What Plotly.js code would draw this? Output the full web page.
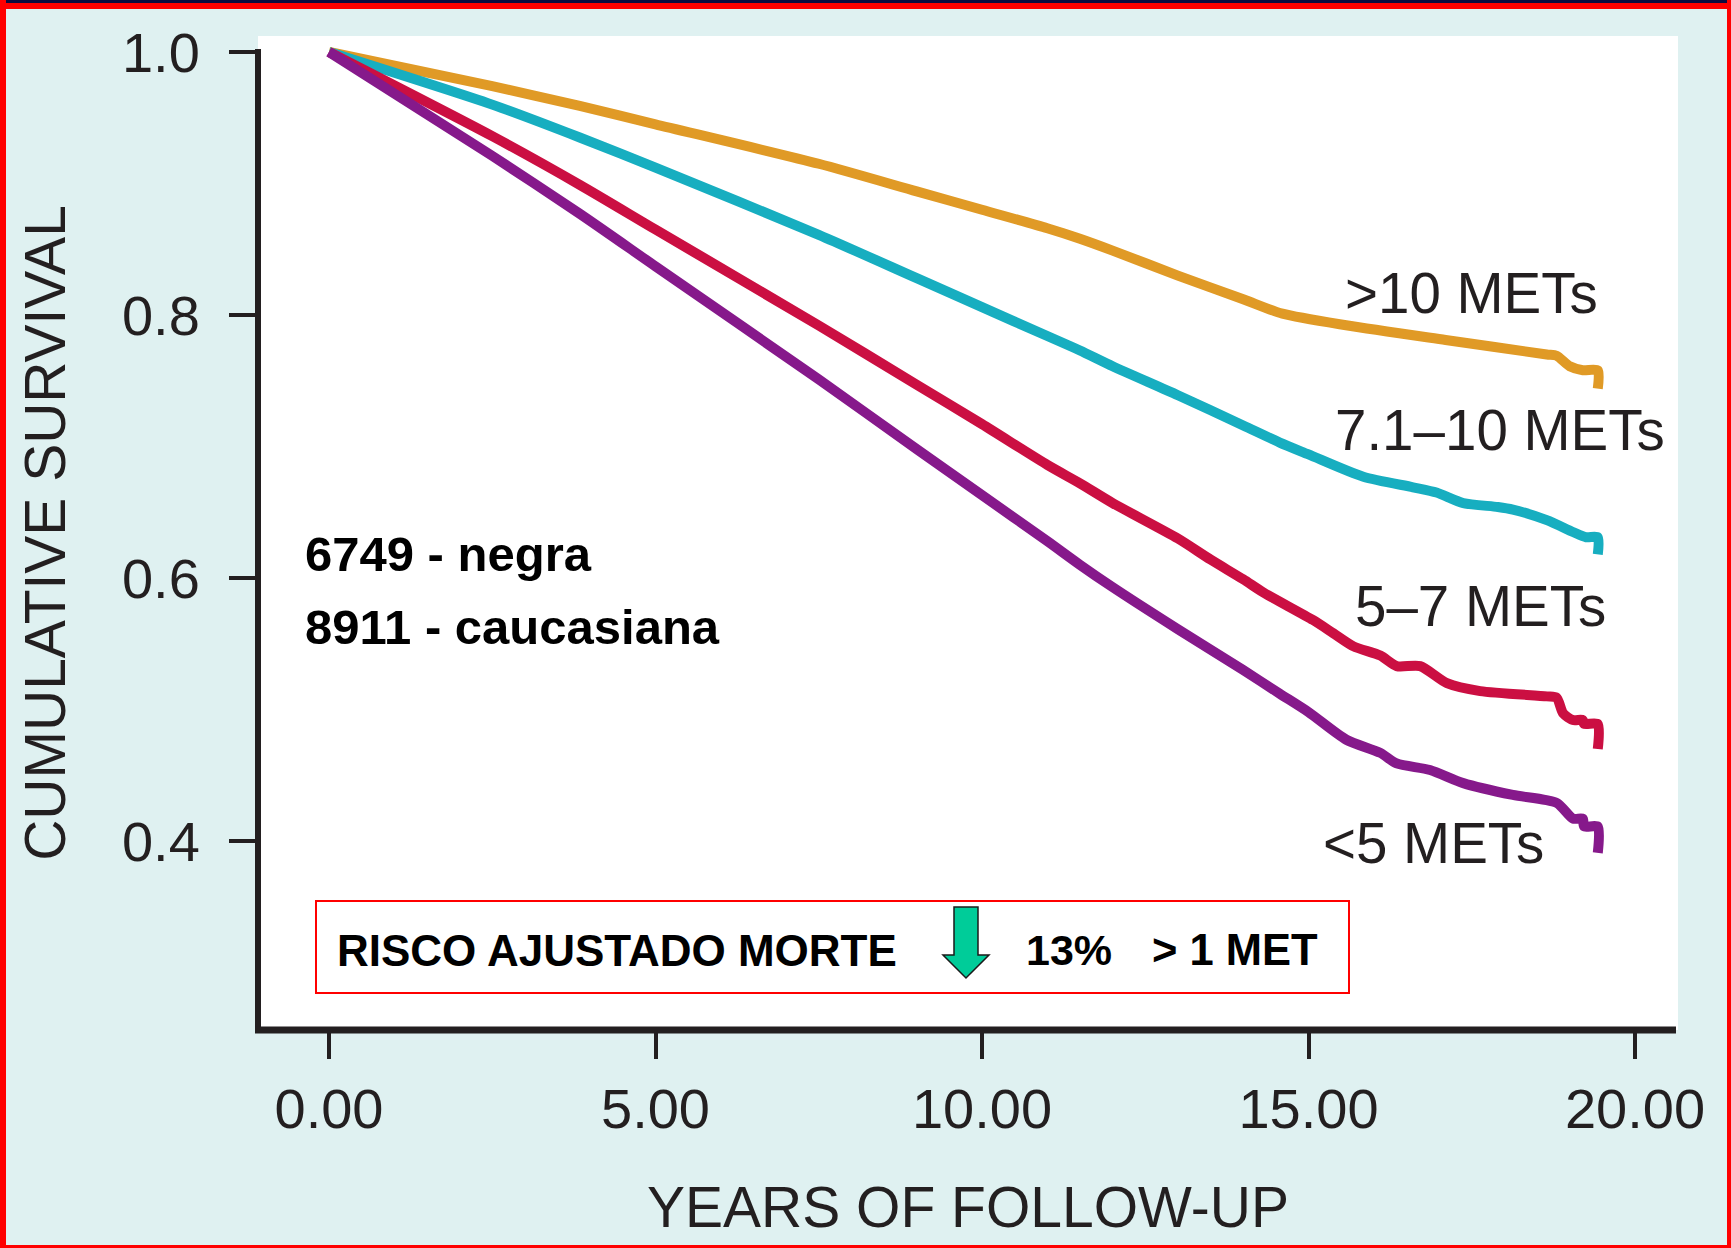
<!DOCTYPE html>
<html>
<head>
<meta charset="utf-8">
<script src="https://cdn.plot.ly/plotly-3.0.1.min.js"></script>
<style>html,body{margin:0;padding:0;background:#dff1f1;}#chart{width:1731px;height:1248px;}</style>
</head>
<body>
<div id="chart"></div>
<script>
// ---------------- DATA ----------------
const seriesNames = ['>10 METs', '7.1–10 METs', '5–7 METs', '<5 METs'];
const seriesColors = ['#e09a26', '#17aec0', '#cb0f42', '#86198b'];

const years_gt10 = [0, 2.5, 3.84, 5, 7.5, 9, 10, 11, 11.5, 12, 13, 14, 14.6, 15.6, 17.1, 18.65, 18.8, 19.0, 19.2, 19.43, 19.43];
const surv_gt10  = [1.0, 0.974, 0.959, 0.945, 0.915, 0.894, 0.880, 0.866, 0.858, 0.849, 0.830, 0.812, 0.801, 0.792, 0.781, 0.770, 0.769, 0.761, 0.758, 0.758, 0.744];

const years_7to10 = [0, 2.5, 3.84, 5, 7.5, 9, 10, 11, 11.5, 12, 13, 14, 14.56, 15, 15.84, 16.6, 16.96, 17.37, 17.9, 18.13, 18.65, 19.05, 19.25, 19.43, 19.43];
const surv_7to10  = [1.0, 0.960, 0.935, 0.912, 0.861, 0.828, 0.806, 0.784, 0.773, 0.761, 0.739, 0.716, 0.703, 0.694, 0.677, 0.669, 0.665, 0.657, 0.654, 0.652, 0.644, 0.635, 0.631, 0.631, 0.618];

const years_5to7 = [0, 2.5, 3.84, 5, 7.5, 9, 10, 11, 11.5, 12, 13, 13.5, 14, 14.31, 15.07, 15.38, 15.69, 16.1, 16.35, 16.71, 17.12, 17.63, 18.65, 18.8, 18.9, 19.05, 19.2, 19.22, 19.43, 19.43];
const surv_5to7  = [1.0, 0.936, 0.899, 0.865, 0.792, 0.747, 0.717, 0.686, 0.672, 0.657, 0.630, 0.614, 0.599, 0.589, 0.568, 0.558, 0.548, 0.541, 0.533, 0.533, 0.520, 0.514, 0.510, 0.509, 0.497, 0.492, 0.492, 0.489, 0.489, 0.470];

const years_lt5 = [0, 2.5, 3.84, 5, 7.5, 9, 10, 11, 11.5, 12, 13, 14, 14.56, 15, 15.58, 16.1, 16.35, 16.86, 17.37, 18.13, 18.8, 19.05, 19.2, 19.22, 19.43, 19.43];
const surv_lt5  = [1.0, 0.921, 0.877, 0.837, 0.751, 0.698, 0.663, 0.628, 0.610, 0.593, 0.561, 0.530, 0.512, 0.498, 0.477, 0.467, 0.459, 0.454, 0.444, 0.435, 0.429, 0.417, 0.417, 0.411, 0.411, 0.391];

const xTickVals = [0, 5, 10, 15, 20];
const xTickText = ['0.00', '5.00', '10.00', '15.00', '20.00'];
const yTickVals = [0.4, 0.6, 0.8, 1.0];
const yTickText = ['0.4', '0.6', '0.8', '1.0'];

const xTitle = 'YEARS OF FOLLOW-UP';
const yTitle = 'CUMULATIVE SURVIVAL';
const noteLines = ['6749 - negra', '8911 - caucasiana'];
const boxTexts = ['RISCO AJUSTADO MORTE', '13%', '&gt; 1 MET'];

// ---------------- LAYOUT HELPERS ----------------
const W = 1731, H = 1248;
const M = {l: 258, r: 53, t: 36, b: 218};
const PW = W - M.l - M.r, PH = H - M.t - M.b;
function px(xp) { return (xp - M.l) / PW; }
function py(yp) { return (H - M.b - yp) / PH; }

const FONT = 'Liberation Sans, Arial, Helvetica, sans-serif';
const INK = '#231f20';

const allYears = [years_gt10, years_7to10, years_5to7, years_lt5];
const allSurv = [surv_gt10, surv_7to10, surv_5to7, surv_lt5];

const traces = seriesNames.map((name, i) => ({
  type: 'scatter', mode: 'lines', name: name,
  x: allYears[i], y: allSurv[i],
  line: {color: seriesColors[i], width: 10, shape: 'spline', smoothing: 0.7},
  hoverinfo: 'x+y+name'
}));

// curve label positions
const labelPos = [[17.49, 0.816], [17.93, 0.712], [17.64, 0.578], [16.91, 0.398]];
const labelText = ['&gt;10 METs', '7.1–10 METs', '5–7 METs', '&lt;5 METs'];

const annotations = labelText.map((t, i) => ({
  x: labelPos[i][0], y: labelPos[i][1], xref: 'x', yref: 'y',
  text: t, showarrow: false, xanchor: 'center', yanchor: 'middle',
  font: {family: FONT, size: 56.5, color: INK}
}));

annotations.push(
  {x: px(303), y: py(554), xref: 'paper', yref: 'paper', text: '<b>' + noteLines[0] + '</b>', showarrow: false, xanchor: 'left', yanchor: 'middle', font: {family: FONT, size: 49, color: '#000'}},
  {x: px(303), y: py(627), xref: 'paper', yref: 'paper', text: '<b>' + noteLines[1] + '</b>', showarrow: false, xanchor: 'left', yanchor: 'middle', font: {family: FONT, size: 49, color: '#000'}},
  {x: px(335), y: py(950), xref: 'paper', yref: 'paper', text: '<b>' + boxTexts[0] + '</b>', showarrow: false, xanchor: 'left', yanchor: 'middle', font: {family: FONT, size: 44, color: '#000'}},
  {x: px(1024), y: py(950), xref: 'paper', yref: 'paper', text: '<b>' + boxTexts[1] + '</b>', showarrow: false, xanchor: 'left', yanchor: 'middle', font: {family: FONT, size: 43, color: '#000'}},
  {x: px(1150), y: py(950), xref: 'paper', yref: 'paper', text: '<b>' + boxTexts[2] + '</b>', showarrow: false, xanchor: 'left', yanchor: 'middle', font: {family: FONT, size: 43.5, color: '#000'}}
);

// arrow path (pixel points -> paper)
const arrowPts = [[954,907],[978,907],[978,955],[989,955],[966,978],[943,955],[954,955]];
const arrowPath = 'M ' + arrowPts.map(p => px(p[0]).toFixed(5) + ',' + py(p[1]).toFixed(5)).join(' L ') + ' Z';

function band(x0, y0, x1, y1, color) {
  return {type: 'rect', xref: 'paper', yref: 'paper', x0: px(x0), x1: px(x1), y0: py(y1), y1: py(y0),
          fillcolor: color, line: {width: 0}, layer: 'above'};
}

const shapes = [
  // axis lines
  {type: 'line', xref: 'paper', yref: 'paper', x0: px(258), x1: px(258), y0: py(1033), y1: py(49), line: {color: INK, width: 6}},
  {type: 'line', xref: 'paper', yref: 'paper', x0: px(255), x1: px(1676), y0: py(1030), y1: py(1030), line: {color: INK, width: 7}},
  // annotation box
  {type: 'rect', xref: 'paper', yref: 'paper', x0: px(316), x1: px(1349), y0: py(993), y1: py(901), line: {color: '#ff0000', width: 2}, fillcolor: 'rgba(255,255,255,0)'},
  // arrow
  {type: 'path', xref: 'paper', yref: 'paper', path: arrowPath, fillcolor: '#00cc99', line: {color: '#1a1a1a', width: 1.5}},
  // frame
  band(0, 0, W, 3, '#0c0c40'),
  band(0, 3, W, 9, '#ff0000'),
  band(0, 0, 6, H, '#ff0000'),
  band(1727, 0, W, H, '#ff0000'),
  band(0, 1245, W, H, '#ff0000')
];

const layout = {
  width: W, height: H,
  margin: {l: M.l, r: M.r, t: M.t, b: M.b, pad: 0},
  paper_bgcolor: '#dff1f1',
  plot_bgcolor: '#ffffff',
  showlegend: false,
  xaxis: {
    range: [(258 - 329) / 65.3, (1678 - 329) / 65.3],
    tickmode: 'array', tickvals: xTickVals, ticktext: xTickText,
    ticks: 'outside', ticklen: 28, tickwidth: 4, tickcolor: INK,
    showgrid: false, zeroline: false, showline: false,
    tickfont: {family: FONT, size: 56, color: INK},
    ticklabelstandoff: 2,
    title: {text: xTitle, font: {family: FONT, size: 57, color: INK}, standoff: 47},
    fixedrange: true
  },
  yaxis: {
    range: [1 - (1030 - 52) / 1315, 1 + (52 - 36) / 1315],
    tickmode: 'array', tickvals: yTickVals, ticktext: yTickText,
    ticks: 'outside', ticklen: 28, tickwidth: 4, tickcolor: INK,
    showgrid: false, zeroline: false, showline: false,
    tickfont: {family: FONT, size: 56, color: INK},
    ticklabelstandoff: 18,
    title: {text: yTitle, font: {family: FONT, size: 57, color: INK}, standoff: 37},
    fixedrange: true
  },
  annotations: annotations,
  shapes: shapes
};

Plotly.newPlot('chart', traces, layout, {displayModeBar: false, responsive: false});
</script>
</body>
</html>
